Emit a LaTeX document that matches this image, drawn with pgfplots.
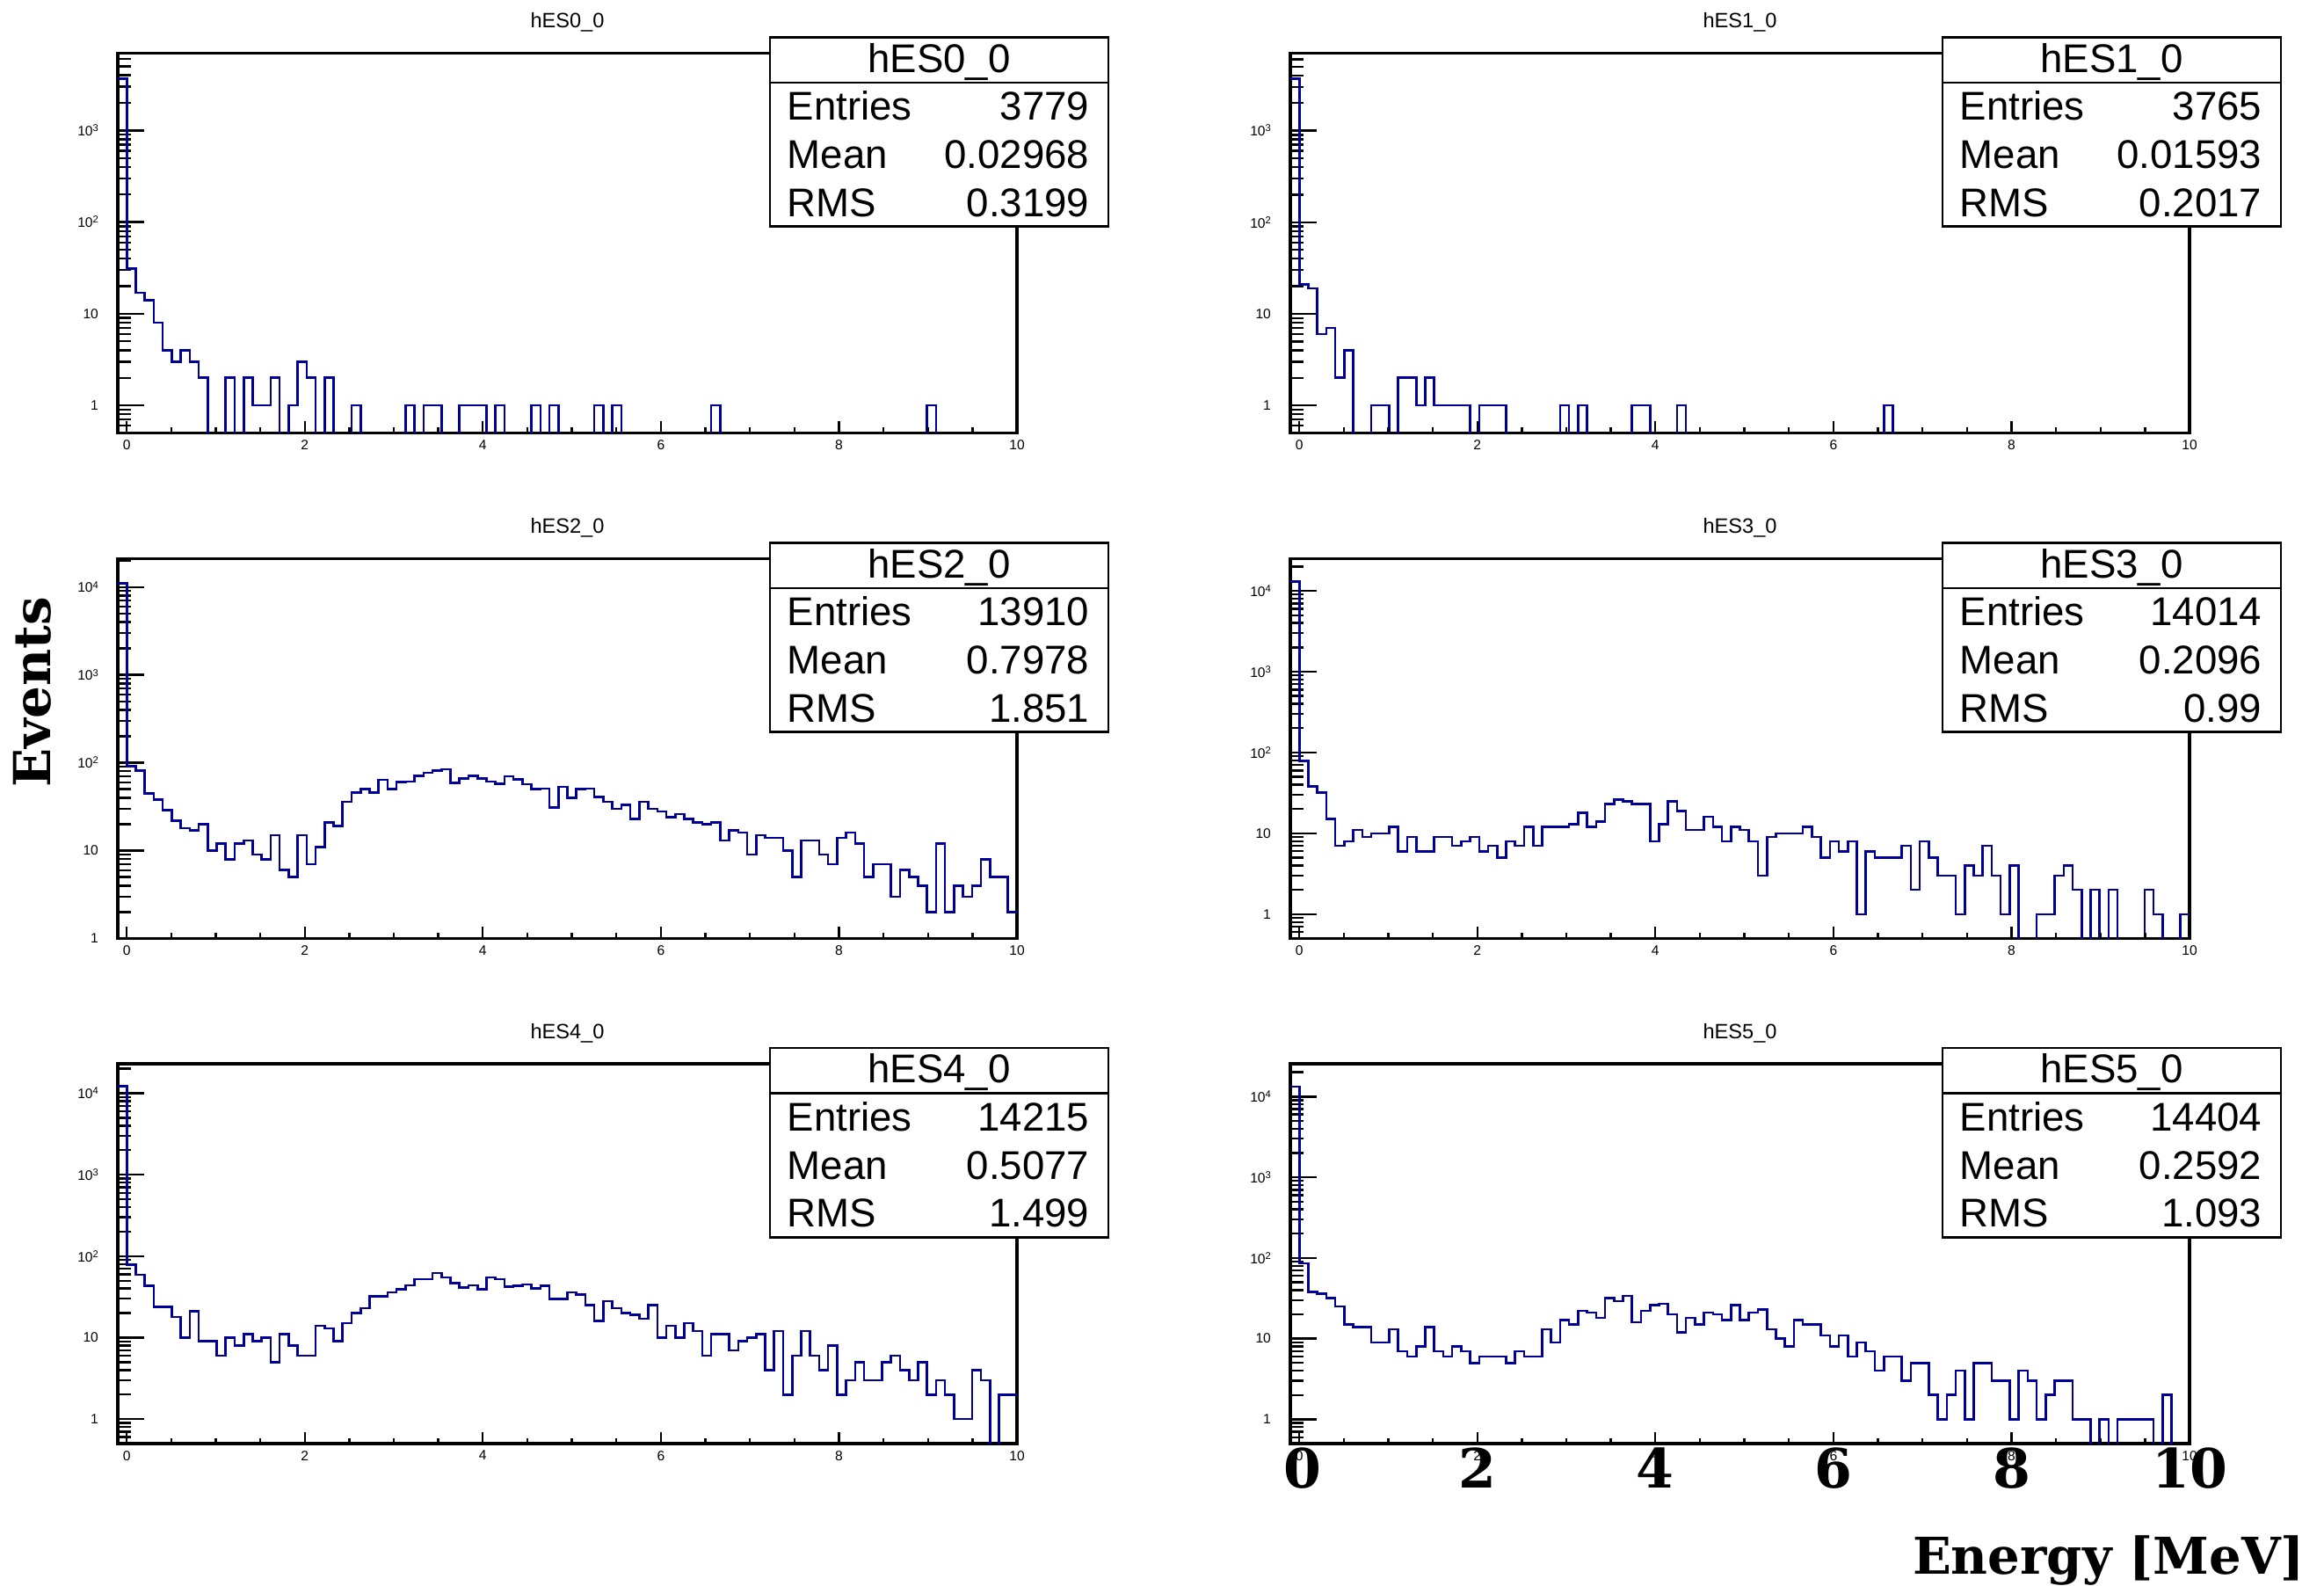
\documentclass[border=0pt]{standalone}
\usepackage{graphicx}
\usepackage{pgfplots}
\pgfplotsset{compat=1.18}
\usepackage{pgfplotstable}
\usepackage{fontspec}
\setmainfont{Liberation Sans}
\newfontfamily\plainfam{Liberation Sans}
\newfontfamily\labfam{DejaVu Serif}
\definecolor{hblue}{RGB}{0,0,153}
\newcommand\tickfont{\plainfam\fontsize{3.9}{4.5}\selectfont}
\newcommand\titlefont{\plainfam\fontsize{5.9}{6.5}\selectfont}
\newcommand\statfont{\plainfam\fontsize{11.4}{12}\selectfont}
\newcommand\tp[1]{10\raisebox{0.6ex}{\fontsize{2.8}{3}\selectfont #1}}

% hES0_0 (zero bins written as 0.1, below the axis floor)
\pgfplotstableread[row sep=\\]{c\\
3663\\31\\17\\14\\8\\4\\3\\4\\3\\2\\
0.1\\0.1\\2\\0.1\\2\\1\\1\\2\\0.1\\1\\
3\\2\\0.1\\2\\0.1\\0.1\\1\\0.1\\0.1\\0.1\\
0.1\\0.1\\1\\0.1\\1\\1\\0.1\\0.1\\1\\1\\
1\\0.1\\1\\0.1\\0.1\\0.1\\1\\0.1\\1\\0.1\\
0.1\\0.1\\0.1\\1\\0.1\\1\\0.1\\0.1\\0.1\\0.1\\
0.1\\0.1\\0.1\\0.1\\0.1\\0.1\\1\\0.1\\0.1\\0.1\\
0.1\\0.1\\0.1\\0.1\\0.1\\0.1\\0.1\\0.1\\0.1\\0.1\\
0.1\\0.1\\0.1\\0.1\\0.1\\0.1\\0.1\\0.1\\0.1\\0.1\\
1\\0.1\\0.1\\0.1\\0.1\\0.1\\0.1\\0.1\\0.1\\0.1\\
0.1\\}\tA
% hES1_0
\pgfplotstableread[row sep=\\]{c\\
3684\\21\\19\\6\\7\\2\\4\\0.1\\0.1\\1\\
1\\0.1\\2\\2\\1\\2\\1\\1\\1\\1\\
0.1\\1\\1\\1\\0.1\\0.1\\0.1\\0.1\\0.1\\0.1\\
1\\0.1\\1\\0.1\\0.1\\0.1\\0.1\\0.1\\1\\1\\
0.1\\0.1\\0.1\\1\\0.1\\0.1\\0.1\\0.1\\0.1\\0.1\\
0.1\\0.1\\0.1\\0.1\\0.1\\0.1\\0.1\\0.1\\0.1\\0.1\\
0.1\\0.1\\0.1\\0.1\\0.1\\0.1\\1\\0.1\\0.1\\0.1\\
0.1\\0.1\\0.1\\0.1\\0.1\\0.1\\0.1\\0.1\\0.1\\0.1\\
0.1\\0.1\\0.1\\0.1\\0.1\\0.1\\0.1\\0.1\\0.1\\0.1\\
0.1\\0.1\\0.1\\0.1\\0.1\\0.1\\0.1\\0.1\\0.1\\0.1\\
0.1\\}\tB
% hES2_0
\pgfplotstableread[row sep=\\]{c\\
11078\\91\\82\\45\\38\\29\\22\\18\\17\\20\\
10\\12\\8\\12\\13\\9\\8\\15\\6\\5\\
15\\7\\11\\21\\19\\36\\46\\50\\46\\64\\
50\\60\\61\\71\\77\\82\\84\\59\\66\\71\\
66\\61\\58\\70\\65\\57\\50\\51\\31\\53\\
40\\50\\51\\41\\36\\30\\33\\23\\36\\30\\
28\\24\\26\\23\\21\\20\\21\\13\\17\\16\\
9\\15\\14\\14\\10\\5\\13\\13\\9\\7\\
14\\16\\12\\5\\7\\7\\3\\6\\5\\4\\
2\\12\\2\\4\\3\\4\\8\\5\\5\\2\\
2\\}\tC
% hES3_0
\pgfplotstableread[row sep=\\]{c\\
13113\\79\\38\\32\\15\\7\\8\\11\\9\\10\\
10\\12\\6\\9\\6\\6\\9\\9\\7\\8\\
9\\6\\7\\5\\8\\7\\12\\7\\12\\12\\
12\\13\\18\\12\\14\\23\\26\\25\\23\\23\\
8\\13\\25\\19\\11\\11\\16\\12\\8\\12\\
11\\8\\3\\9\\10\\10\\10\\12\\9\\5\\
8\\6\\8\\1\\6\\5\\5\\5\\7\\2\\
8\\5\\3\\3\\1\\4\\3\\7\\3\\1\\
4\\0.1\\0.1\\1\\1\\3\\4\\2\\0.1\\2\\
0.1\\2\\0.1\\0.1\\0.1\\2\\1\\0.1\\0.1\\1\\
1\\}\tD
% hES4_0
\pgfplotstableread[row sep=\\]{c\\
12298\\79\\59\\43\\24\\24\\18\\10\\21\\9\\
9\\6\\10\\8\\11\\9\\10\\5\\11\\8\\
6\\6\\14\\13\\9\\15\\20\\23\\32\\32\\
36\\39\\44\\52\\52\\62\\55\\47\\41\\44\\
39\\55\\52\\42\\43\\45\\40\\43\\30\\30\\
36\\34\\25\\16\\28\\23\\20\\19\\17\\25\\
10\\14\\10\\15\\12\\6\\11\\11\\7\\9\\
10\\11\\4\\12\\2\\6\\12\\6\\4\\8\\
2\\3\\5\\3\\3\\5\\6\\4\\3\\5\\
2\\3\\2\\1\\1\\4\\3\\0.1\\2\\2\\
2\\}\tE
% hES5_0
\pgfplotstableread[row sep=\\]{c\\
13281\\86\\38\\36\\32\\25\\15\\14\\14\\9\\
9\\13\\7\\6\\8\\14\\7\\6\\8\\7\\
5\\6\\6\\6\\5\\7\\6\\6\\13\\9\\
17\\15\\22\\21\\18\\32\\29\\34\\16\\22\\
26\\27\\20\\12\\18\\15\\21\\20\\17\\26\\
17\\21\\23\\13\\10\\8\\17\\15\\15\\11\\
8\\11\\6\\9\\7\\4\\6\\6\\3\\5\\
5\\2\\1\\2\\4\\1\\5\\5\\3\\3\\
1\\4\\3\\1\\2\\3\\3\\1\\1\\0.1\\
1\\0.1\\1\\1\\1\\1\\0.1\\2\\0.1\\0.1\\
0.1\\}\tF

\newcommand\panel[9]{%
\begin{axis}[scale only axis, width=255.75pt, height=108pt, anchor=north west,
    at={(#1,#2)},
    xmin=-0.1, xmax=10, ymin=#4, ymax=#5, ymode=log,
    clip mode=individual,
    axis line style={line width=0.8pt},
    tick pos=left, tick align=inside,
    tick style={black, line width=0.6pt},
    xtick=\empty,
    ytick={1,10,100,1000,10000},
    yticklabels={1,10,\tp{2},\tp{3},\tp{4}},
    minor ytick={0.6,0.7,0.8,0.9,2,3,4,5,6,7,8,9,20,30,40,50,60,70,80,90,200,300,400,500,600,700,800,900,2000,3000,4000,5000,6000,7000,8000,9000,20000},
    major tick length=7.5pt, minor tick length=3.7pt,
    yticklabel style={font=\tickfont, xshift=-2pt}]
\addplot[const plot, hblue, line width=0.65pt] table[x expr={-0.1+0.101*\coordindex}, y=c]{#3};
\node[font=\titlefont] at (rel axis cs:0.5,1.081) {#6};
\draw[fill=white, line width=0.65pt] (rel axis cs:0.7253,1.042) rectangle (rel axis cs:1.1017,0.5435);
\draw[line width=0.65pt] (rel axis cs:0.7253,0.9225) -- (rel axis cs:1.1017,0.9225);
\node[anchor=base, font=\statfont, inner sep=0pt] at (rel axis cs:0.9135,0.9500) {#6};
\node[anchor=base west, font=\statfont, inner sep=0pt] at (rel axis cs:0.7439,0.8230) {Entries};
\node[anchor=base east, font=\statfont, inner sep=0pt] at (rel axis cs:1.0811,0.8230) {#7};
\node[anchor=base west, font=\statfont, inner sep=0pt] at (rel axis cs:0.7439,0.6960) {Mean};
\node[anchor=base east, font=\statfont, inner sep=0pt] at (rel axis cs:1.0811,0.6960) {#8};
\node[anchor=base west, font=\statfont, inner sep=0pt] at (rel axis cs:0.7439,0.5700) {RMS};
\node[anchor=base east, font=\statfont, inner sep=0pt] at (rel axis cs:1.0811,0.5700) {#9};
\end{axis}
\begin{axis}[scale only axis, width=255.75pt, height=108pt, anchor=north west,
    at={(#1,#2)},
    xmin=-0.1, xmax=10, ymin=0, ymax=1,
    axis y line=none, axis x line*=bottom,
    x axis line style={draw=none},
    xtick={0,2,4,6,8,10}, xticklabels={0,2,4,6,8,10},
    minor x tick num=3,
    tick align=inside,
    major tick length=3.3pt, minor tick length=1.6pt,
    tick style={black, line width=0.6pt},
    xticklabel style={font=\tickfont, yshift=1.5pt}]
\end{axis}
}

\begin{document}
\begin{tikzpicture}
\useasboundingbox (0,0) rectangle (661pt,450.75pt);
\panel{33.5pt}{435.625pt}{\tA}{0.5}{6970}{hES0\_0}{3779}{0.02968}{0.3199}
\panel{367pt}{435.625pt}{\tB}{0.5}{7000}{hES1\_0}{3765}{0.01593}{0.2017}
\panel{33.5pt}{291.875pt}{\tC}{1}{21000}{hES2\_0}{13910}{0.7978}{1.851}
\panel{367pt}{291.875pt}{\tD}{0.5}{25000}{hES3\_0}{14014}{0.2096}{0.99}
\panel{33.5pt}{148.25pt}{\tE}{0.5}{23000}{hES4\_0}{14215}{0.5077}{1.499}
\panel{367pt}{148.25pt}{\tF}{0.5}{25500}{hES5\_0}{14404}{0.2592}{1.093}
\node[rotate=90, anchor=base, inner sep=0pt, font=\labfam\bfseries\fontsize{14.5}{15}\selectfont] at (14.25pt,253.9pt) {Events};
\node[anchor=base east, inner sep=0pt, font=\labfam\bfseries\fontsize{14.4}{15}\selectfont] at (655.75pt,3.25pt) {Energy [MeV]};
\foreach \v/\xx in {0/370.5,2/420.18,4/470.82,6/521.47,8/572.11,10/622.75}
  \node[anchor=base, inner sep=0pt, font=\labfam\bfseries\fontsize{15.4}{16}\selectfont] at (\xx pt,27.75pt) {\v};
\end{tikzpicture}
\end{document}
